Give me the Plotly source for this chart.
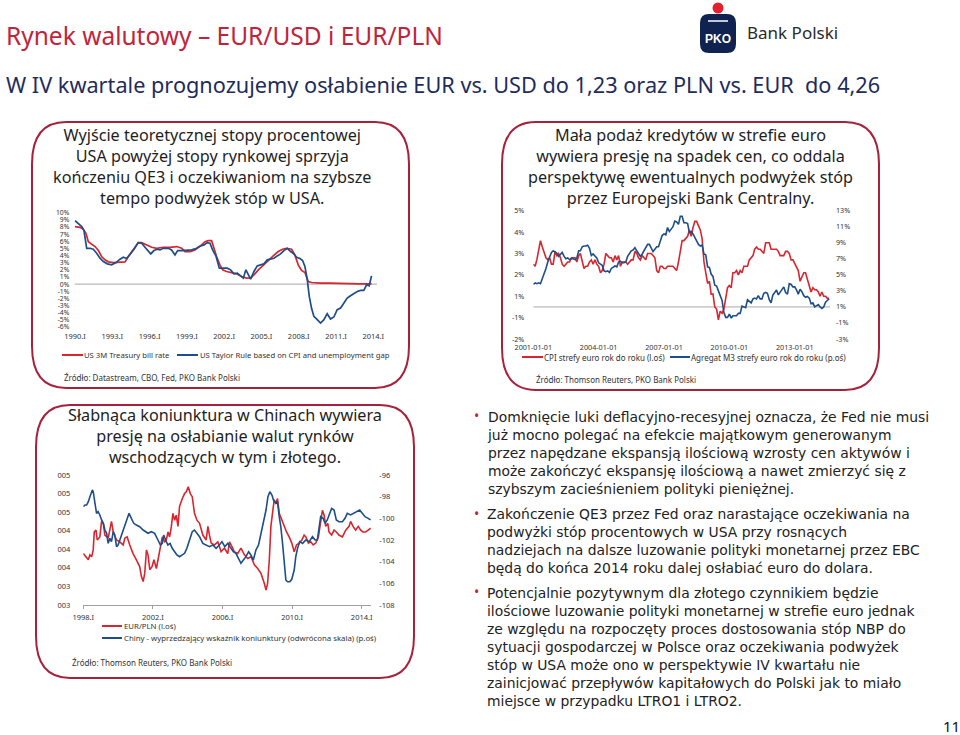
import plotly.graph_objects as go
import pandas as pd

W, H = 960, 735
FONT = "Noto Sans"

# ---------------- DATA ----------------
# Chart 1: US 3M T-bill vs Taylor rule (%), decimal years
tbill_x = [1990.00, 1990.40, 1990.67, 1990.88, 1991.07, 1991.34, 1991.61, 1991.88, 1992.14, 1992.41,
           1992.68, 1993.08, 1993.62, 1994.02, 1994.29, 1994.56, 1994.83, 1995.09, 1995.36, 1995.63,
           1995.90, 1996.17, 1996.57, 1997.10, 1997.64, 1998.18, 1998.58, 1998.85, 1999.25, 1999.65,
           1999.92, 2000.19, 2000.46, 2000.72, 2000.99, 2001.18, 2001.39, 2001.66, 2001.88, 2002.20,
           2002.60, 2003.00, 2003.40, 2003.81, 2004.13, 2004.40, 2004.75, 2005.15, 2005.55, 2005.95,
           2006.35, 2006.70, 2007.02, 2007.43, 2007.69, 2007.96, 2008.23, 2008.50, 2008.77, 2009.03,
           2009.71, 2010.51, 2011.31, 2012.12, 2012.92, 2013.86]
tbill_y = [8.05, 7.95, 7.67, 7.12, 5.95, 5.63, 5.26, 4.70, 3.86, 3.40,
           3.12, 3.02, 3.02, 3.12, 3.86, 4.56, 5.26, 5.81, 5.81, 5.63,
           5.35, 5.16, 5.02, 5.16, 5.16, 5.26, 5.02, 4.56, 4.56, 4.79,
           5.16, 5.49, 5.95, 6.09, 6.09, 5.02, 3.86, 2.70, 2.00, 1.77,
           1.63, 1.44, 1.07, 0.84, 0.88, 1.30, 2.00, 2.70, 3.30, 3.95,
           4.56, 4.88, 5.02, 4.88, 4.09, 2.70, 1.91, 1.63, 0.37, 0.23,
           0.14, 0.14, 0.09, 0.06, 0.05, 0.05]
taylor_x = [1990.00, 1990.27, 1990.54, 1990.72, 1990.94, 1991.21, 1991.47, 1991.74, 1992.01, 1992.28,
            1992.60, 1992.95, 1993.30, 1993.62, 1993.89, 1994.16, 1994.42, 1994.75, 1995.09, 1995.36,
            1995.63, 1995.90, 1996.09, 1996.35, 1996.62, 1996.84, 1997.10, 1997.51, 1997.77, 1998.04,
            1998.26, 1998.58, 1998.98, 1999.38, 1999.79, 2000.11, 2000.38, 2000.64, 2000.86, 2001.07,
            2001.34, 2001.61, 2001.93, 2002.25, 2002.52, 2002.79, 2003.06, 2003.32, 2003.54, 2003.75,
            2003.94, 2004.13, 2004.40, 2004.66, 2004.93, 2005.20, 2005.47, 2005.74, 2006.01, 2006.27,
            2006.54, 2006.81, 2007.08, 2007.35, 2007.61, 2007.83, 2008.10, 2008.31, 2008.50, 2008.69,
            2008.85, 2009.03, 2009.22, 2009.49, 2009.76, 2010.03, 2010.29, 2010.56, 2010.83, 2011.10,
            2011.37, 2011.64, 2011.90, 2012.17, 2012.44, 2012.71, 2012.98, 2013.24, 2013.46, 2013.67,
            2013.86]
taylor_y = [8.88, 8.51, 8.05, 7.49, 5.02, 5.02, 4.88, 4.33, 3.63, 3.16,
            2.84, 2.70, 3.02, 3.49, 3.77, 3.58, 4.09, 4.88, 5.81, 5.72,
            5.16, 4.56, 4.23, 4.70, 4.88, 4.79, 5.02, 5.02, 4.79, 4.09,
            4.70, 4.70, 4.70, 4.79, 5.02, 5.35, 5.49, 5.81, 5.72, 4.79,
            3.95, 2.23, 2.23, 2.23, 2.00, 1.44, 1.53, 1.16, 0.84, 2.00,
            1.30, 0.70, 1.77, 2.56, 2.70, 2.84, 3.40, 3.49, 3.63, 3.95,
            4.23, 4.70, 5.02, 4.56, 4.23, 3.77, 3.58, 3.30, 2.47, 0.60,
            -1.72, -3.35, -4.51, -4.98, -5.44, -4.98, -4.14, -4.88, -4.60, -3.58,
            -3.35, -2.65, -1.95, -1.63, -1.35, -1.02, -0.88, -0.88, -0.09, -0.23,
            1.16]
c1_ticks = [1990, 1993, 1996, 1999, 2002, 2005, 2008, 2011, 2014]
c1_ticktext = ["1990.I", "1993.I", "1996.I", "1999.I", "2002.I", "2005.I", "2008.I", "2011.I", "2014.I"]
c1_yticks = list(range(-6, 11))

# Chart 2: euro area CPI y/y (left) and M3 y/y (right), monthly from 2001-01
cpi = [2.0, 1.9, 2.2, 2.7, 3.1, 2.8, 2.5, 2.3, 2.2, 2.3, 2.0, 2.0,
       2.6, 2.4, 2.5, 2.3, 2.0, 1.9, 2.0, 2.1, 2.1, 2.3, 2.3, 2.3,
       2.1, 2.4, 2.5, 2.1, 1.8, 1.9, 1.9, 2.1, 2.2, 2.0, 2.2, 2.0,
       1.9, 1.6, 1.7, 2.0, 2.5, 2.4, 2.3, 2.3, 2.1, 2.4, 2.2, 2.4,
       1.9, 2.1, 2.1, 2.1, 2.0, 2.1, 2.2, 2.2, 2.6, 2.5, 2.3, 2.2,
       2.4, 2.3, 2.2, 2.5, 2.5, 2.5, 2.4, 2.3, 1.7, 1.6, 1.9, 1.9,
       1.8, 1.8, 1.9, 1.9, 1.9, 1.9, 1.8, 1.7, 2.1, 2.6, 3.1, 3.1,
       3.2, 3.3, 3.6, 3.3, 3.7, 4.0, 4.0, 3.8, 3.6, 3.2, 2.1, 1.6,
       1.1, 1.2, 0.6, 0.6, 0.0, -0.1, -0.6, -0.2, -0.3, -0.1, 0.5, 0.9,
       1.0, 0.9, 1.6, 1.6, 1.7, 1.5, 1.7, 1.6, 1.9, 1.9, 1.9, 2.2,
       2.3, 2.4, 2.7, 2.8, 2.7, 2.7, 2.6, 2.5, 3.0, 3.0, 3.0, 2.7,
       2.7, 2.7, 2.7, 2.6, 2.4, 2.4, 2.4, 2.6, 2.6, 2.5, 2.2, 2.2,
       2.0, 1.8, 1.7, 1.2, 1.4, 1.6, 1.6, 1.3, 1.1, 0.7, 0.9, 0.8,
       0.8, 0.7, 0.5, 0.7, 0.5, 0.5, 0.4, 0.4]
m3 = [3.8, 4.0, 3.9, 4.0, 3.9, 4.5, 5.3, 5.8, 6.6, 7.2, 7.8, 8.0,
      7.9, 7.7, 7.3, 7.5, 7.8, 7.3, 7.0, 7.1, 6.9, 7.0, 7.0, 6.9,
      7.1, 8.0, 8.0, 8.5, 8.6, 8.6, 8.7, 8.3, 7.4, 7.6, 7.3, 7.1,
      6.5, 6.3, 6.2, 5.5, 5.4, 5.5, 5.3, 5.8, 6.0, 6.1, 6.0, 6.6,
      6.7, 6.5, 6.5, 6.6, 7.3, 7.6, 8.0, 8.1, 8.4, 8.0, 7.6, 7.3,
      7.6, 8.0, 8.5, 8.8, 8.8, 8.4, 7.9, 8.2, 8.5, 8.5, 9.2, 9.9,
      10.1, 10.0, 10.9, 10.4, 10.7, 11.0, 11.7, 11.6, 11.3, 12.3, 12.3, 11.5,
      11.5, 11.4, 10.3, 10.4, 10.1, 9.6, 9.2, 8.8, 8.6, 8.7, 7.6, 7.5,
      6.0, 5.9, 5.1, 4.8, 3.7, 3.6, 3.0, 2.5, 1.8, 0.3, -0.3, -0.3,
      0.1, -0.4, -0.1, -0.1, -0.1, 0.2, 0.2, 1.1, 1.0, 0.9, 1.9, 1.7,
      1.5, 2.0, 2.1, 2.0, 2.4, 2.0, 2.0, 2.7, 2.8, 2.7, 1.9, 1.5,
      2.5, 2.8, 3.1, 2.5, 2.8, 3.1, 3.5, 2.8, 2.6, 3.9, 3.8, 3.5,
      3.5, 3.1, 2.6, 3.2, 2.9, 2.4, 2.2, 2.3, 2.1, 1.4, 1.5, 1.0,
      1.2, 1.3, 1.0, 0.8, 1.0, 1.6, 1.8, 2.0]
c2_start = "2001-01-01"
c2_ticks = ["2001-01-01", "2004-01-01", "2007-01-01", "2010-01-01", "2013-01-01"]
c2_left_ticks = [4.5, 3.5, 2.5, 1.5, 0.5, -0.5, -1.5]
c2_left_text = ["5%", "4%", "3%", "2%", "1%", "-1%", "-2%"]
c2_right_ticks = list(range(-3, 14, 2))

# Chart 3: EUR/PLN (left) vs China leading indicator, inverted (right)
eurpln_x = [1998.00, 1998.15, 1998.29, 1998.38, 1998.48, 1998.57, 1998.63, 1998.73, 1998.80, 1998.95,
            1999.05, 1999.15, 1999.24, 1999.43, 1999.53, 1999.62, 1999.72, 1999.91, 2000.10, 2000.29,
            2000.39, 2000.52, 2000.67, 2000.86, 2001.05, 2001.24, 2001.34, 2001.44, 2001.53, 2001.63,
            2001.72, 2001.82, 2001.95, 2002.06, 2002.20, 2002.29, 2002.43, 2002.54, 2002.68, 2002.77,
            2002.87, 2002.96, 2003.06, 2003.15, 2003.25, 2003.34, 2003.44, 2003.53, 2003.69, 2003.82,
            2003.92, 2004.03, 2004.15, 2004.26, 2004.39, 2004.53, 2004.68, 2004.87, 2005.06, 2005.16,
            2005.25, 2005.35, 2005.54, 2005.73, 2005.92, 2006.11, 2006.30, 2006.40, 2006.55, 2006.68,
            2006.87, 2007.06, 2007.26, 2007.45, 2007.64, 2007.83, 2008.02, 2008.21, 2008.40, 2008.50,
            2008.59, 2008.69, 2008.78, 2008.88, 2008.97, 2009.07, 2009.16, 2009.26, 2009.41, 2009.55,
            2009.68, 2009.83, 2009.98, 2010.12, 2010.25, 2010.40, 2010.56, 2010.69, 2010.79, 2010.94,
            2011.07, 2011.21, 2011.36, 2011.51, 2011.65, 2011.74, 2011.84, 2011.93, 2012.05, 2012.12,
            2012.27, 2012.41, 2012.54, 2012.69, 2012.89, 2013.08, 2013.27, 2013.36, 2013.50, 2013.65,
            2013.80, 2013.94, 2014.07, 2014.22, 2014.37, 2014.51]
eurpln_y = [3.83, 3.78, 3.73, 3.81, 3.78, 3.89, 4.18, 4.21, 4.05, 4.10,
            4.35, 4.32, 4.13, 4.08, 4.21, 4.35, 4.18, 4.05, 4.02, 3.97,
            4.08, 4.10, 3.97, 3.83, 3.73, 3.62, 3.46, 3.38, 3.51, 3.89,
            3.81, 3.57, 3.62, 3.73, 3.59, 3.73, 3.97, 4.10, 4.02, 4.05,
            4.18, 4.10, 4.27, 4.48, 4.37, 4.45, 4.27, 4.59, 4.72, 4.80,
            4.83, 4.91, 4.80, 4.75, 4.48, 4.37, 4.32, 4.13, 4.05, 4.27,
            4.13, 4.00, 3.97, 4.02, 3.86, 3.92, 3.83, 4.02, 3.94, 3.86,
            3.83, 3.92, 3.81, 3.75, 3.78, 3.65, 3.59, 3.51, 3.35, 3.24,
            3.35, 3.73, 4.27, 4.53, 4.70, 4.64, 4.72, 4.48, 4.37, 4.27,
            4.18, 4.10, 4.00, 3.86, 3.97, 4.00, 4.05, 4.13, 4.10, 4.00,
            4.02, 3.97, 4.00, 4.10, 4.37, 4.53, 4.45, 4.27, 4.32, 4.18,
            4.13, 4.21, 4.18, 4.13, 4.10, 4.21, 4.27, 4.35, 4.27, 4.21,
            4.27, 4.21, 4.18, 4.18, 4.21, 4.24]
china_x = [1998.00, 1998.10, 1998.19, 1998.29, 1998.38, 1998.52, 1998.57, 1998.67, 1998.76, 1998.85,
           1998.95, 1999.05, 1999.15, 1999.24, 1999.34, 1999.43, 1999.53, 1999.62, 1999.72, 1999.81,
           1999.91, 2000.00, 2000.10, 2000.25, 2000.39, 2000.52, 2000.63, 2000.76, 2000.90, 2001.05,
           2001.24, 2001.44, 2001.59, 2001.72, 2001.91, 2002.10, 2002.29, 2002.43, 2002.54, 2002.62,
           2002.73, 2002.86, 2002.99, 2003.11, 2003.25, 2003.38, 2003.53, 2003.69, 2003.82, 2003.95,
           2004.11, 2004.26, 2004.39, 2004.53, 2004.68, 2004.87, 2005.06, 2005.25, 2005.44, 2005.63,
           2005.82, 2005.97, 2006.13, 2006.30, 2006.49, 2006.62, 2006.77, 2006.93, 2007.06, 2007.20,
           2007.35, 2007.50, 2007.63, 2007.77, 2007.92, 2008.07, 2008.21, 2008.34, 2008.50, 2008.61,
           2008.72, 2008.84, 2008.93, 2009.07, 2009.16, 2009.26, 2009.35, 2009.45, 2009.54, 2009.64,
           2009.73, 2009.87, 2009.98, 2010.12, 2010.21, 2010.31, 2010.44, 2010.60, 2010.79, 2010.98,
           2011.17, 2011.32, 2011.45, 2011.55, 2011.64, 2011.78, 2011.89, 2012.02, 2012.16, 2012.27,
           2012.41, 2012.54, 2012.69, 2012.89, 2013.04, 2013.17, 2013.36, 2013.55, 2013.74, 2013.88,
           2014.03, 2014.19, 2014.37, 2014.51]
china_y = [-98.92, -98.77, -98.77, -98.46, -98.00, -97.38, -97.54, -98.62, -99.54, -99.38,
           -99.69, -100.15, -100.46, -101.08, -101.38, -102.31, -101.85, -102.15, -101.23, -101.54,
           -102.62, -102.46, -102.00, -101.38, -100.77, -100.15, -99.54, -100.00, -100.46, -100.62,
           -100.77, -101.08, -101.23, -101.38, -101.23, -101.38, -102.00, -102.46, -102.31, -101.54,
           -102.00, -102.46, -102.31, -102.77, -103.08, -103.38, -103.54, -103.38, -103.23, -102.77,
           -102.00, -101.23, -101.08, -101.38, -101.69, -102.31, -102.46, -102.62, -102.46, -102.77,
           -102.46, -102.15, -102.62, -102.31, -102.77, -103.08, -103.23, -103.69, -104.15, -103.85,
           -103.54, -103.08, -103.38, -103.85, -102.92, -102.46, -101.38, -100.46, -99.23, -98.00,
           -97.54, -97.85, -98.31, -98.62, -98.46, -99.85, -100.77, -102.31, -104.15, -105.69,
           -105.85, -105.85, -105.63, -104.77, -103.54, -102.77, -102.15, -102.31, -102.00, -102.15,
           -101.69, -102.00, -102.00, -100.77, -99.85, -100.00, -100.46, -100.15, -99.54, -99.08,
           -99.23, -100.15, -100.31, -100.31, -100.00, -99.54, -99.69, -99.54, -99.38, -99.23,
           -99.54, -99.85, -100.00, -100.15]
c3_ticks = [1998, 2002, 2006, 2010, 2014]
c3_ticktext = ["1998.I", "2002.I", "2006.I", "2010.I", "2014.I"]
c3_left_ticks = [3.0, 3.3, 3.6, 3.9, 4.2, 4.5, 4.8, 5.1]
c3_left_text = ["003", "003", "004", "004", "004", "005", "005", "005"]
c3_right_ticks = list(range(-108, -95, 2))

# Text content
title = "Rynek walutowy \u2013 EUR/USD i EUR/PLN"
subtitle = "W IV kwartale prognozujemy osłabienie EUR vs. USD do 1,23 oraz PLN vs. EUR  do 4,26"
box1_head = ["Wyjście teoretycznej stopy procentowej", "USA powyżej stopy rynkowej sprzyja",
             "kończeniu QE3 i oczekiwaniom na szybsze", "tempo podwyżek stóp w USA."]
box2_head = ["Mała podaż kredytów w strefie euro", "wywiera presję na spadek cen, co oddala",
             "perspektywę ewentualnych podwyżek stóp", "przez Europejski Bank Centralny."]
box3_head = ["Słabnąca koniunktura w Chinach wywiera", "presję na osłabianie walut rynków",
             "wschodzących w tym i złotego."]
bullets = [
    ["Domknięcie luki deflacyjno-recesyjnej oznacza, że Fed nie musi",
     "już mocno polegać na efekcie majątkowym generowanym",
     "przez napędzane ekspansją ilościową wzrosty cen aktywów i",
     "może zakończyć ekspansję ilościową a nawet zmierzyć się z",
     "szybszym zacieśnieniem polityki pieniężnej."],
    ["Zakończenie QE3 przez Fed oraz narastające oczekiwania na",
     "podwyżki stóp procentowych w USA przy rosnących",
     "nadziejach na dalsze luzowanie polityki monetarnej przez EBC",
     "będą do końca 2014 roku dalej osłabiać euro do dolara."],
    ["Potencjalnie pozytywnym dla złotego czynnikiem będzie",
     "ilościowe luzowanie polityki monetarnej w strefie euro jednak",
     "ze względu na rozpoczęty proces dostosowania stóp NBP do",
     "sytuacji gospodarczej w Polsce oraz oczekiwania podwyżek",
     "stóp w USA może ono w perspektywie IV kwartału nie",
     "zainicjować przepływów kapitałowych do Polski jak to miało",
     "miejsce w przypadku LTRO1 i LTRO2."],
]

# ---------------- STYLE ----------------
RED = "#d7262f"
BLUE = "#1d4e89"
BOX = "#a8213a"
TITLE_RED = "#c1243a"
NAVY = "#1e2c5c"
TXT = "#1e1e1e"


def X(px):
    return px / W


def Y(py):
    return 1 - py / H


def rbox(x0, y0, x1, y1, rx, ry):
    p = [
        f"M {X(x0 + rx)} {Y(y0)}", f"L {X(x1 - rx)} {Y(y0)}",
        f"Q {X(x1)} {Y(y0)} {X(x1)} {Y(y0 + ry)}", f"L {X(x1)} {Y(y1 - ry)}",
        f"Q {X(x1)} {Y(y1)} {X(x1 - rx)} {Y(y1)}", f"L {X(x0 + rx)} {Y(y1)}",
        f"Q {X(x0)} {Y(y1)} {X(x0)} {Y(y1 - ry)}", f"L {X(x0)} {Y(y0 + ry)}",
        f"Q {X(x0)} {Y(y0)} {X(x0 + rx)} {Y(y0)}", "Z"]
    return " ".join(p)


fig = go.Figure()

# Chart 1
fig.add_trace(go.Scatter(x=tbill_x, y=tbill_y, mode="lines", line=dict(color=RED, width=1.7),
                         xaxis="x", yaxis="y", name="US 3M Treasury bill rate"))
fig.add_trace(go.Scatter(x=taylor_x, y=taylor_y, mode="lines", line=dict(color=BLUE, width=1.7),
                         xaxis="x", yaxis="y", name="US Taylor Rule"))

# Chart 2
c2_dates = pd.date_range(c2_start, periods=len(cpi), freq="MS")
fig.add_trace(go.Scatter(x=c2_dates, y=cpi, mode="lines", line=dict(color=RED, width=1.6),
                         xaxis="x2", yaxis="y2", name="CPI"))
fig.add_trace(go.Scatter(x=c2_dates[:len(m3)], y=m3, mode="lines", line=dict(color=BLUE, width=1.6),
                         xaxis="x2", yaxis="y3", name="M3"))

# Chart 3
fig.add_trace(go.Scatter(x=eurpln_x, y=eurpln_y, mode="lines", line=dict(color=RED, width=1.6),
                         xaxis="x3", yaxis="y4", name="EUR/PLN"))
fig.add_trace(go.Scatter(x=china_x, y=china_y, mode="lines", line=dict(color=BLUE, width=1.6),
                         xaxis="x3", yaxis="y5", name="Chiny"))

tickf = dict(family=FONT, size=7.5, color="#333333")
tickf2 = dict(family=FONT, size=7.2, color="#333333")
tickf1 = dict(family=FONT, size=6.8, color="#333333")
common = dict(showgrid=False, zeroline=False, showline=False, ticks="", fixedrange=True, automargin=False)

fig.update_layout(
    template="none",
    width=W, height=H, margin=dict(l=0, r=0, t=0, b=0, pad=0),
    paper_bgcolor="white", plot_bgcolor="rgba(0,0,0,0)", showlegend=False,
    font=dict(family=FONT, color=TXT),
    xaxis=dict(domain=[X(74.4), X(377)], range=[1989.95, 2014.3], tickvals=c1_ticks,
               ticktext=c1_ticktext, tickfont=tickf, anchor="y", ticklabelstandoff=3, **common),
    yaxis=dict(domain=[Y(327), Y(212.7)], range=[-6, 10], tickvals=c1_yticks,
               ticktext=[f"{v}%" for v in c1_yticks], tickfont=tickf1, anchor="x",
               ticklabelstandoff=4, **common),
    xaxis2=dict(domain=[X(533.3), X(830)], type="date", range=["2001-01-01", "2014-08-15"],
                tickvals=c2_ticks, ticktext=c2_ticks, tickfont=tickf2, anchor="y2",
                ticklabelstandoff=3, **common),
    yaxis2=dict(domain=[Y(339), Y(210.7)], range=[-1.5, 4.5], tickvals=c2_left_ticks,
                ticktext=c2_left_text, tickfont=tickf2, anchor="x2", ticklabelstandoff=8, **common),
    yaxis3=dict(overlaying="y2", side="right", range=[-3, 13], tickvals=c2_right_ticks,
                ticktext=[f"{v}%" for v in c2_right_ticks], tickfont=tickf2, anchor="x2",
                ticklabelstandoff=5, **common),
    xaxis3=dict(domain=[X(83.3), X(371.3)], range=[1998.0, 2014.55], tickvals=c3_ticks,
                ticktext=c3_ticktext, tickfont=tickf, anchor="y4", automargin=False,
                showgrid=False, zeroline=False, showline=True, linecolor="#a0a0a0", linewidth=1,
                ticks="outside", ticklen=3, tickcolor="#a0a0a0", fixedrange=True, ticklabelstandoff=2),
    yaxis4=dict(domain=[Y(605), Y(475)], range=[3.0, 5.1], tickvals=c3_left_ticks,
                ticktext=c3_left_text, tickfont=tickf, anchor="x3", ticklabelstandoff=12, **common),
    yaxis5=dict(overlaying="y4", side="right", range=[-108, -96], tickvals=c3_right_ticks,
                ticktext=[str(v) for v in c3_right_ticks], tickfont=tickf, anchor="x3",
                ticklabelstandoff=7, **common),
)

shapes = []
# rounded boxes
for (x0, y0, x1, y1) in [(32, 122, 409, 388), (502, 122, 879, 390), (36, 405, 414, 678)]:
    shapes.append(dict(type="path", xref="paper", yref="paper", path=rbox(x0, y0, x1, y1, 34, 42),
                       line=dict(color=BOX, width=2), fillcolor="rgba(0,0,0,0)", layer="below"))
# zero lines
shapes.append(dict(type="line", xref="x", yref="y", x0=1989.95, x1=2014.3, y0=0, y1=0,
                   line=dict(color="#a8a8a8", width=1), layer="below"))
shapes.append(dict(type="line", xref="x2", yref="y2", x0="2001-01-01", x1="2014-08-15", y0=0, y1=0,
                   line=dict(color="#a8a8a8", width=1), layer="below"))


# legend samples
def leg_line(x0, x1, y, color):
    shapes.append(dict(type="line", xref="paper", yref="paper", x0=X(x0), x1=X(x1), y0=Y(y), y1=Y(y),
                       line=dict(color=color, width=2)))


leg_line(62, 83, 355, RED)
leg_line(177, 198, 355, BLUE)
leg_line(522, 543, 357, RED)
leg_line(670, 690, 357, BLUE)
leg_line(102, 122, 626, RED)
leg_line(102, 122, 638, BLUE)

# logo
shapes.append(dict(type="circle", xref="paper", yref="paper", x0=X(712.5), x1=X(723.5), y0=Y(13.5), y1=Y(2.5),
                   fillcolor="#e3202e", line=dict(width=0)))
shapes.append(dict(type="path", xref="paper", yref="paper", path=rbox(700, 14, 736, 53, 9, 9),
                   fillcolor="#0f2250", line=dict(width=0)))
shapes.append(dict(type="line", xref="paper", yref="paper", x0=X(708), x1=X(728), y0=Y(21), y1=Y(21),
                   line=dict(color="white", width=1.5)))
fig.update_layout(shapes=shapes)

ann = []


def txt(x, y, s, size, color=TXT, anchor="left", family=FONT, bold=False, align="left", yanchor="middle"):
    ann.append(dict(xref="paper", yref="paper", x=X(x), y=Y(y), text=(f"<b>{s}</b>" if bold else s),
                    showarrow=False, xanchor=anchor, yanchor=yanchor, align=align, borderpad=0,
                    font=dict(family=family, size=size, color=color)))


txt(5, 35, title, 24.5, TITLE_RED)
txt(5, 84, subtitle, 21.7, NAVY)
txt(746, 33, "Bank Polski", 17, "#2a2a2a")
txt(718, 39, "PKO", 12, "white", anchor="center", family="Liberation Sans", bold=True)

# box headings as multi-line blocks (line pitch = 1.3 x font size)
HF = 16.2
txt(212, 135 + 1.5 * HF * 1.3, "<br>".join(box1_head), HF, anchor="center", align="center")
txt(690, 135 + 1.5 * HF * 1.3, "<br>".join(box2_head), HF, anchor="center", align="center")
txt(225, 415 + 1.0 * HF * 1.3, "<br>".join(box3_head), HF, anchor="center", align="center")

txt(83, 355, "US 3M Treasury bill rate", 7.7, "#333333")
txt(199, 355, "US Taylor Rule based on CPI and unemployment gap", 7.7, "#333333")
txt(543, 357, "CPI strefy euro rok do roku (l.oś)", 8, "#333333")
txt(690, 357, "Agregat M3 strefy euro rok do roku (p.oś)", 8, "#333333")
txt(123, 626, "EUR/PLN (l.oś)", 7.8, "#333333")
txt(123, 638, "Chiny - wyprzedzający wskaźnik koniunktury (odwrócona skala) (p.oś)", 7.8, "#333333")

txt(63, 378, "Źródło: Datastream, CBO, Fed, PKO Bank Polski", 8, "#333333")
txt(535, 379, "Źródło: Thomson Reuters, PKO Bank Polski", 8, "#333333")
txt(71, 662, "Źródło: Thomson Reuters, PKO Bank Polski", 8, "#333333")

# bullet paragraphs as multi-line blocks, pitch 1.3 x 13.9 = 18.07 px
BF = 13.9
BFAM = "DejaVu Sans"
starts = [416.7, 514.3, 592.7]
for para, y0 in zip(bullets, starts):
    txt(476, y0 - 1, "•", 14, TITLE_RED, anchor="center")
    n = len(para)
    txt(486, y0 + (n - 1) / 2 * BF * 1.3, "<br>".join(para), BF, "#222222", family=BFAM)

txt(951, 726, "11", 15, "#111111", anchor="center")

fig.update_layout(annotations=ann)
fig.write_html("out.html", config={"displayModeBar": False},
               post_script="document.body.style.margin='0';document.body.style.padding='0';")
